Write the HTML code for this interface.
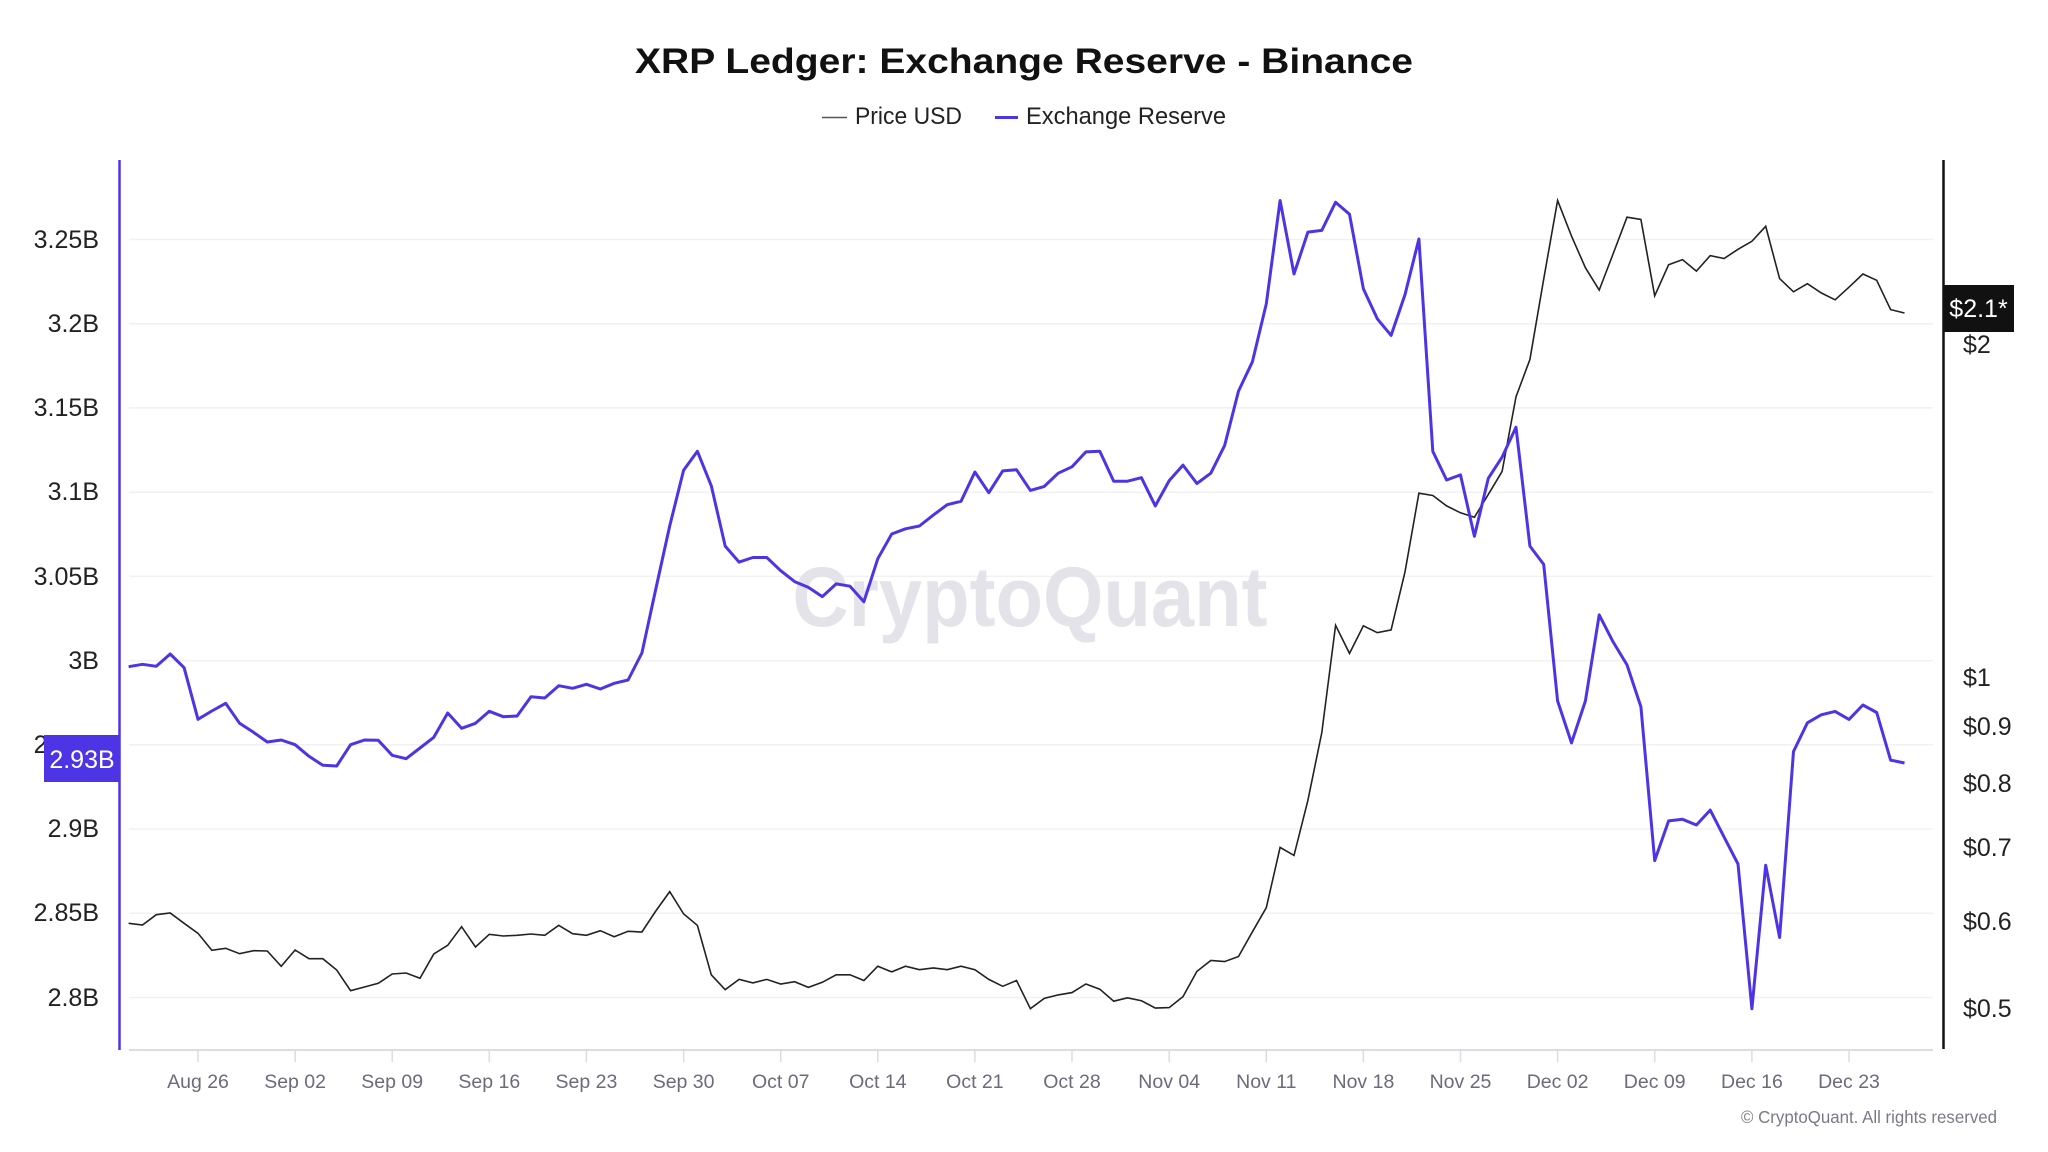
<!DOCTYPE html>
<html>
<head>
<meta charset="utf-8">
<style>
  html, body { margin: 0; padding: 0; background: #ffffff; }
  svg { display: block; }
  text { font-family: "Liberation Sans", "DejaVu Sans", sans-serif; }
</style>
</head>
<body>
<svg width="2048" height="1152" viewBox="0 0 2048 1152" xmlns="http://www.w3.org/2000/svg">
  <rect x="0" y="0" width="2048" height="1152" fill="#ffffff"/>

  <!-- Title -->
  <text x="1024" y="73" text-anchor="middle" font-size="35" font-weight="bold" fill="#111111" textLength="778" lengthAdjust="spacingAndGlyphs">XRP Ledger: Exchange Reserve - Binance</text>

  <!-- Legend -->
  <line x1="822" y1="117.5" x2="847" y2="117.5" stroke="#555555" stroke-width="1.6"/>
  <text x="855" y="124" font-size="24" fill="#222222" textLength="107" lengthAdjust="spacingAndGlyphs">Price USD</text>
  <line x1="995" y1="117.5" x2="1018" y2="117.5" stroke="#4d35e5" stroke-width="3"/>
  <text x="1026" y="124" font-size="24" fill="#222222" textLength="200" lengthAdjust="spacingAndGlyphs">Exchange Reserve</text>

  <!-- Gridlines -->
  <g stroke="#f1f1f3" stroke-width="1.5">
    <line x1="129" y1="239.5" x2="1933" y2="239.5"/>
    <line x1="129" y1="323.7" x2="1933" y2="323.7"/>
    <line x1="129" y1="407.9" x2="1933" y2="407.9"/>
    <line x1="129" y1="492.2" x2="1933" y2="492.2"/>
    <line x1="129" y1="576.4" x2="1933" y2="576.4"/>
    <line x1="129" y1="660.6" x2="1933" y2="660.6"/>
    <line x1="129" y1="744.8" x2="1933" y2="744.8"/>
    <line x1="129" y1="829.0" x2="1933" y2="829.0"/>
    <line x1="129" y1="913.3" x2="1933" y2="913.3"/>
    <line x1="129" y1="997.5" x2="1933" y2="997.5"/>
  </g>

  <!-- Watermark -->
  <text x="1030" y="626" text-anchor="middle" font-size="84" font-weight="bold" fill="#e4e3ea" textLength="475" lengthAdjust="spacingAndGlyphs">CryptoQuant</text>

  <!-- Left axis labels -->
  <g font-size="25" fill="#222222" text-anchor="end">
    <text x="99" y="248">3.25B</text>
    <text x="99" y="332">3.2B</text>
    <text x="99" y="416">3.15B</text>
    <text x="99" y="500">3.1B</text>
    <text x="99" y="585">3.05B</text>
    <text x="99" y="669">3B</text>
    <text x="99" y="753">2.95B</text>
    <text x="99" y="837">2.9B</text>
    <text x="99" y="921">2.85B</text>
    <text x="99" y="1006">2.8B</text>
  </g>

  <!-- Right axis labels -->
  <g font-size="25" fill="#222222">
    <text x="1963" y="353">$2</text>
    <text x="1963" y="686">$1</text>
    <text x="1963" y="735">$0.9</text>
    <text x="1963" y="792">$0.8</text>
    <text x="1963" y="856">$0.7</text>
    <text x="1963" y="930">$0.6</text>
    <text x="1963" y="1017">$0.5</text>
  </g>

  <!-- X axis -->
  <line x1="129" y1="1050" x2="1933" y2="1050" stroke="#dcdbe6" stroke-width="2"/>
  <g stroke="#dcdbe6" stroke-width="1.5">
    <line x1="198.0" y1="1050" x2="198.0" y2="1062"/>
    <line x1="295.1" y1="1050" x2="295.1" y2="1062"/>
    <line x1="392.2" y1="1050" x2="392.2" y2="1062"/>
    <line x1="489.3" y1="1050" x2="489.3" y2="1062"/>
    <line x1="586.4" y1="1050" x2="586.4" y2="1062"/>
    <line x1="683.6" y1="1050" x2="683.6" y2="1062"/>
    <line x1="780.7" y1="1050" x2="780.7" y2="1062"/>
    <line x1="877.8" y1="1050" x2="877.8" y2="1062"/>
    <line x1="974.9" y1="1050" x2="974.9" y2="1062"/>
    <line x1="1072.0" y1="1050" x2="1072.0" y2="1062"/>
    <line x1="1169.2" y1="1050" x2="1169.2" y2="1062"/>
    <line x1="1266.3" y1="1050" x2="1266.3" y2="1062"/>
    <line x1="1363.4" y1="1050" x2="1363.4" y2="1062"/>
    <line x1="1460.5" y1="1050" x2="1460.5" y2="1062"/>
    <line x1="1557.6" y1="1050" x2="1557.6" y2="1062"/>
    <line x1="1654.7" y1="1050" x2="1654.7" y2="1062"/>
    <line x1="1751.9" y1="1050" x2="1751.9" y2="1062"/>
    <line x1="1849.0" y1="1050" x2="1849.0" y2="1062"/>
  </g>
  <g font-size="19.5" fill="#6b6b7a" text-anchor="middle">
    <text x="198.0" y="1088">Aug 26</text>
    <text x="295.1" y="1088">Sep 02</text>
    <text x="392.2" y="1088">Sep 09</text>
    <text x="489.3" y="1088">Sep 16</text>
    <text x="586.4" y="1088">Sep 23</text>
    <text x="683.6" y="1088">Sep 30</text>
    <text x="780.7" y="1088">Oct 07</text>
    <text x="877.8" y="1088">Oct 14</text>
    <text x="974.9" y="1088">Oct 21</text>
    <text x="1072.0" y="1088">Oct 28</text>
    <text x="1169.2" y="1088">Nov 04</text>
    <text x="1266.3" y="1088">Nov 11</text>
    <text x="1363.4" y="1088">Nov 18</text>
    <text x="1460.5" y="1088">Nov 25</text>
    <text x="1557.6" y="1088">Dec 02</text>
    <text x="1654.7" y="1088">Dec 09</text>
    <text x="1751.9" y="1088">Dec 16</text>
    <text x="1849.0" y="1088">Dec 23</text>
  </g>

  <!-- Price USD series -->
  <polyline fill="none" stroke="#222222" stroke-width="1.6" stroke-linejoin="miter" points="
128.6,923.3 142.5,925.0 156.3,914.7 170.2,913.0 184.1,923.3 198.0,933.3 211.8,950.3 225.7,948.3 239.6,953.7 253.5,950.7
267.3,951.0 281.2,966.3 295.1,950.0 309.0,958.7 322.8,958.7 336.7,970.0 350.6,990.7 364.5,987.0 378.3,983.3 392.2,974.0
406.1,973.0 420.0,978.3 433.8,954.0 447.7,945.3 461.6,926.7 475.5,947.0 489.3,934.3 503.2,936.0 517.1,935.3 531.0,934.0
544.8,935.3 558.7,925.3 572.6,933.7 586.4,935.3 600.3,930.7 614.2,936.7 628.1,931.3 641.9,932.0 655.8,911.0 669.7,891.6
683.6,913.9 697.4,925.4 711.3,974.8 725.2,989.7 739.1,979.4 752.9,982.9 766.8,979.4 780.7,984.0 794.6,981.7 808.4,987.4
822.3,982.3 836.2,974.8 850.0,974.8 863.9,980.5 877.8,966.2 891.7,971.9 905.5,966.2 919.4,969.7 933.3,967.9 947.2,969.7
961.0,966.2 974.9,969.7 988.8,979.4 1002.7,986.3 1016.5,980.5 1030.4,1008.7 1044.3,998.4 1058.2,994.9 1072.0,992.6 1085.9,984.0
1099.8,989.2 1113.7,1001.2 1127.5,997.8 1141.4,1000.7 1155.3,1008.1 1169.2,1007.6 1183.0,996.6 1196.9,971.4 1210.8,960.5 1224.6,961.6
1238.5,956.5 1252.4,931.8 1266.3,907.7 1280.1,847.4 1294.0,855.4 1307.9,800.3 1321.8,732.6 1335.6,625.3 1349.5,653.4 1363.4,625.8
1377.3,632.7 1391.1,629.9 1405.0,571.9 1418.9,493.2 1432.8,495.5 1446.6,505.9 1460.5,512.8 1474.4,517.3 1488.3,494.4 1502.1,471.4
1516.0,396.8 1529.9,359.5 1543.7,279.1 1557.6,200.5 1571.5,236.1 1585.4,267.7 1599.2,290.1 1613.1,253.9 1627.0,217.2 1640.9,219.5
1654.7,295.8 1668.6,264.8 1682.5,259.6 1696.4,271.1 1710.2,255.6 1724.1,258.5 1738.0,249.3 1751.9,241.3 1765.7,226.3 1779.6,278.6
1793.5,291.8 1807.4,283.7 1821.2,292.9 1835.1,299.8 1849.0,287.2 1862.9,274.0 1876.7,280.3 1890.6,309.6 1904.5,313.0"/>

  <!-- Exchange Reserve series -->
  <polyline fill="none" stroke="#4d35e5" stroke-width="3" stroke-linejoin="round" points="
128.6,666.7 142.5,664.3 156.3,666.3 170.2,654.0 184.1,667.7 198.0,719.3 211.8,711.0 225.7,703.3 239.6,723.3 253.5,732.3
267.3,742.0 281.2,740.0 295.1,744.7 309.0,756.3 322.8,765.3 336.7,766.0 350.6,744.7 364.5,740.0 378.3,740.3 392.2,755.3
406.1,758.7 420.0,748.0 433.8,737.3 447.7,713.0 461.6,728.3 475.5,723.3 489.3,711.3 503.2,716.7 517.1,716.0 531.0,696.7
544.8,698.0 558.7,685.7 572.6,688.3 586.4,684.3 600.3,689.0 614.2,683.3 628.1,680.0 641.9,653.0 655.8,589.0 669.7,526.0
683.6,470.3 697.4,451.3 711.3,485.8 725.2,546.1 739.1,562.1 752.9,557.5 766.8,557.5 780.7,570.7 794.6,581.6 808.4,587.4
822.3,596.6 836.2,583.9 850.0,586.2 863.9,601.7 877.8,558.7 891.7,534.0 905.5,528.8 919.4,526.0 933.3,515.1 947.2,504.7
961.0,501.3 974.9,472.0 988.8,492.7 1002.7,470.9 1016.5,469.7 1030.4,490.4 1044.3,486.4 1058.2,473.2 1072.0,466.8 1085.9,451.9
1099.8,451.3 1113.7,481.2 1127.5,481.2 1141.4,477.7 1155.3,505.9 1169.2,480.6 1183.0,465.1 1196.9,483.5 1210.8,473.2 1224.6,445.6
1238.5,391.1 1252.4,361.8 1266.3,303.8 1280.1,200.5 1294.0,274.0 1307.9,232.1 1321.8,230.4 1335.6,202.2 1349.5,214.3 1363.4,288.9
1377.3,318.8 1391.1,335.4 1405.0,294.6 1418.9,239.0 1432.8,451.3 1446.6,480.0 1460.5,474.9 1474.4,536.3 1488.3,478.3 1502.1,457.1
1516.0,427.2 1529.9,546.1 1543.7,564.4 1557.6,701.0 1571.5,742.9 1585.4,701.0 1599.2,614.9 1613.1,641.9 1627.0,664.9 1640.9,706.8
1654.7,860.6 1668.6,820.9 1682.5,819.3 1696.4,825.0 1710.2,810.1 1724.1,837.1 1738.0,864.0 1751.9,1008.7 1765.7,865.2 1779.6,937.5
1793.5,751.5 1807.4,722.8 1821.2,714.8 1835.1,711.4 1849.0,719.4 1862.9,705.0 1876.7,712.5 1890.6,760.1 1904.5,763.0"/>

  <!-- Left axis line -->
  <line x1="119.5" y1="160" x2="119.5" y2="1050" stroke="#4d35e5" stroke-width="2.5"/>
  <!-- Right axis line -->
  <line x1="1943.5" y1="160" x2="1943.5" y2="1049" stroke="#111111" stroke-width="2.5"/>

  <!-- Current value label: reserve -->
  <rect x="44" y="735" width="76" height="47" fill="#4d35e5"/>
  <text x="82" y="768" text-anchor="middle" font-size="25" fill="#ffffff">2.93B</text>

  <!-- Current value label: price -->
  <rect x="1943" y="285" width="71" height="47" fill="#111111"/>
  <text x="1978.5" y="317" text-anchor="middle" font-size="25" fill="#ffffff">$2.1*</text>

  <!-- Copyright -->
  <text x="1997" y="1123" text-anchor="end" font-size="17.5" fill="#7a7a86" textLength="256" lengthAdjust="spacingAndGlyphs">© CryptoQuant. All rights reserved</text>
</svg>
</body>
</html>
